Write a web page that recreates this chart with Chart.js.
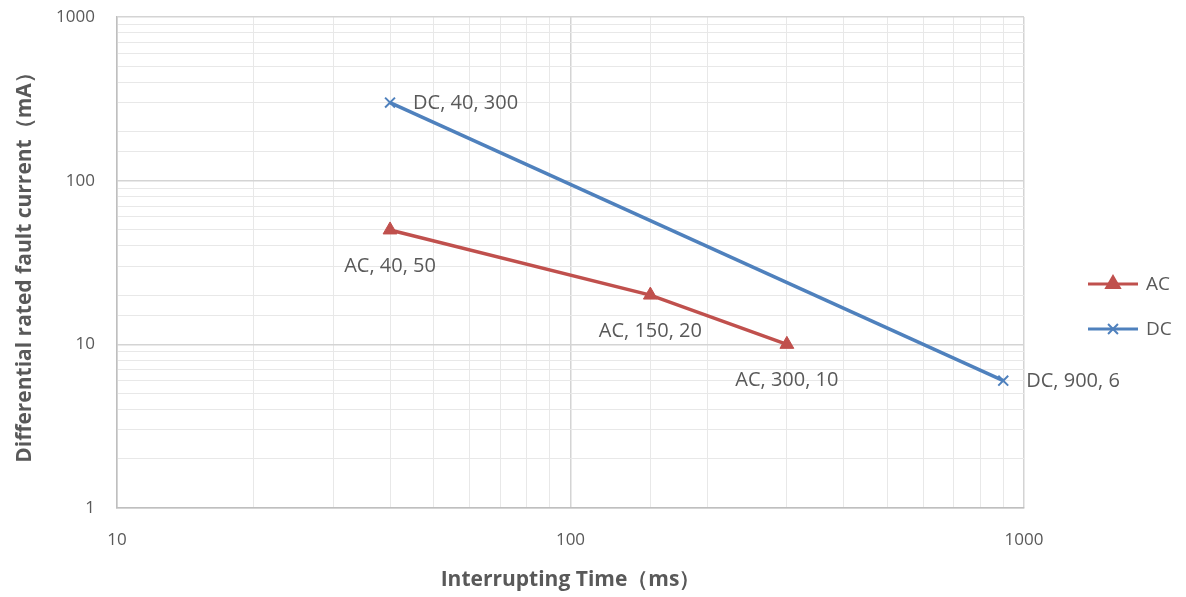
<!DOCTYPE html>
<html>
<head>
<meta charset="utf-8">
<script src="https://cdn.jsdelivr.net/npm/chart.js@4/dist/chart.umd.min.js"></script>
<style>
  html, body { margin: 0; padding: 0; background: #fff; }
  #wrap { width: 1186px; height: 597px; }
</style>
</head>
<body>
<div id="wrap"><canvas id="chart" width="1186" height="597"></canvas></div>
<script>
// data
const seriesNames = ["AC", "DC"];
const acTime = [40, 150, 300];
const acCurrent = [50, 20, 10];
const dcTime = [40, 900];
const dcCurrent = [300, 6];
const xTickLabels = [10, 100, 1000];
const yTickLabels = [1, 10, 100, 1000];

const red = "#c0504d";
const blue = "#4f81bd";
const textGrey = "#595959";
const font = "'Open Sans', 'Noto Sans', sans-serif";

function isMajor(v, labels) {
  return labels.indexOf(v) !== -1;
}

function toPoints(xs, ys) {
  return xs.map((x, i) => ({ x: x, y: ys[i] }));
}

// where each data label goes relative to its point
const labelPlace = {
  AC: ["below", "below", "below"],
  DC: ["right", "right"]
};

const dataLabels = {
  id: "dataLabels",
  afterDatasetsDraw(chart) {
    const ctx = chart.ctx;
    ctx.save();
    ctx.font = "20px " + font;
    ctx.fillStyle = "#595959";
    ctx.textBaseline = "middle";
    chart.data.datasets.forEach((ds, di) => {
      const meta = chart.getDatasetMeta(di);
      meta.data.forEach((pt, i) => {
        const p = ds.data[i];
        const txt = ds.label + ", " + p.x + ", " + p.y;
        if (labelPlace[ds.label][i] === "right") {
          ctx.textAlign = "left";
          ctx.fillText(txt, pt.x + 23, pt.y + 1);
        } else {
          ctx.textAlign = "center";
          ctx.fillText(txt, pt.x, pt.y + 36);
        }
      });
    });
    ctx.restore();
  }
};

const sideLegend = {
  id: "sideLegend",
  afterDraw(chart) {
    const ctx = chart.ctx;
    const rows = [284, 329];
    ctx.save();
    chart.data.datasets.forEach((ds, i) => {
      const y = rows[i];
      ctx.strokeStyle = ds.borderColor;
      ctx.fillStyle = ds.backgroundColor;
      ctx.lineWidth = 3;
      ctx.beginPath();
      ctx.moveTo(1088, y);
      ctx.lineTo(1138, y);
      ctx.stroke();
      ctx.lineWidth = 2;
      Chart.helpers.drawPoint(ctx, {
        pointStyle: ds.pointStyle,
        radius: ds.pointRadius,
        borderWidth: 2
      }, 1113, y);
      ctx.fillStyle = textGrey;
      ctx.font = "19px " + font;
      ctx.textAlign = "left";
      ctx.textBaseline = "middle";
      ctx.fillText(ds.label, 1146, y + 1);
    });
    ctx.restore();
  }
};

new Chart(document.getElementById("chart"), {
  type: "line",
  data: {
    datasets: [
      {
        label: seriesNames[0],
        data: toPoints(acTime, acCurrent),
        borderColor: red,
        backgroundColor: red,
        borderWidth: 3.5,
        pointStyle: "triangle",
        pointRadius: 8,
        pointBorderWidth: 1
      },
      {
        label: seriesNames[1],
        data: toPoints(dcTime, dcCurrent),
        borderColor: blue,
        backgroundColor: blue,
        borderWidth: 3.5,
        pointStyle: "crossRot",
        pointRadius: 7,
        pointBorderWidth: 2
      }
    ]
  },
  options: {
    responsive: false,
    animation: false,
    layout: { padding: { top: 17, right: 162, left: 0, bottom: 0 } },
    plugins: {
      legend: { display: false },
      tooltip: { enabled: false }
    },
    scales: {
      x: {
        type: "logarithmic",
        min: 10,
        max: 1000,
        afterFit(scale) { scale.height = 89; },
        grid: {
          color: c => isMajor(c.tick.value, xTickLabels) ? "#d4d4d4" : "#e8e8e8",
          lineWidth: c => isMajor(c.tick.value, xTickLabels) ? 1.5 : 1,
          drawTicks: false
        },
        border: { color: "#bfbfbf", width: 1.5 },
        ticks: {
          autoSkip: false,
          maxRotation: 0,
          padding: 22,
          color: textGrey,
          font: { family: font, size: 17 },
          callback: v => isMajor(v, xTickLabels) ? String(v) : ""
        },
        title: {
          display: true,
          text: "Interrupting Time（ms）",
          color: textGrey,
          font: { family: font, size: 21, weight: "bold" },
          padding: { top: 8 }
        }
      },
      y: {
        type: "logarithmic",
        min: 1,
        max: 1000,
        afterFit(scale) {
          scale.width = 117;
          scale.paddingTop = 0;
          scale.paddingBottom = 0;
        },
        grid: {
          color: c => isMajor(c.tick.value, yTickLabels) ? "#d4d4d4" : "#e8e8e8",
          lineWidth: c => isMajor(c.tick.value, yTickLabels) ? 1.5 : 1,
          drawTicks: false
        },
        border: { color: "#bfbfbf", width: 1.5 },
        ticks: {
          autoSkip: false,
          padding: 22,
          color: textGrey,
          font: { family: font, size: 17 },
          callback: v => isMajor(v, yTickLabels) ? String(v) : ""
        },
        title: {
          display: true,
          text: "Differential rated fault current（mA）",
          color: textGrey,
          font: { family: font, size: 21, weight: "bold" },
          padding: { top: 12, bottom: 0 }
        }
      }
    }
  },
  plugins: [dataLabels, sideLegend]
});
</script>
</body>
</html>
